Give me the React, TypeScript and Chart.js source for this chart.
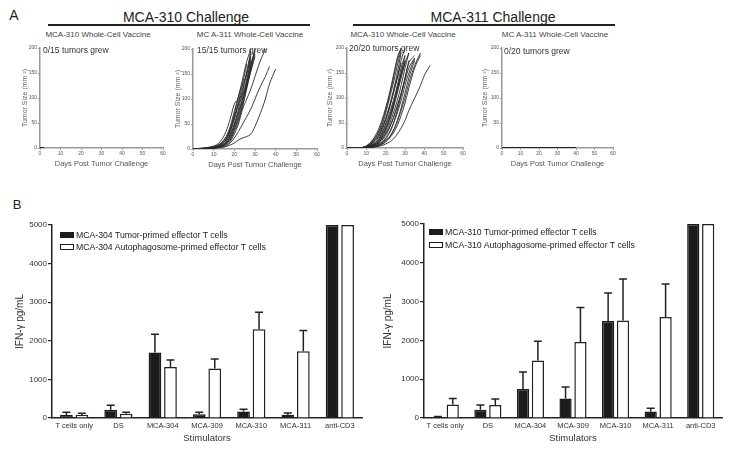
import React, { useEffect, useRef } from "react";
import { Chart, registerables } from "chart.js";
Chart.register(...registerables);

const FONT = "'Liberation Sans', Arial, sans-serif";

// ---------- Panel A data ----------
const xTicksDays = [0, 10, 20, 30, 40, 50, 60];
const yTicksTumor = [0, 50, 100, 150, 200];

// MCA-310 challenge, MCA-311 vaccine (15 tumors)
const days310 = [0, 5, 10, 13, 16, 18, 20, 22, 24, 26, 28, 30, 32, 35, 37, 40];
const curves310 = [
  [0, 1, 3, 8, 20, 35, 60, 90, 120, 150, 185, null, null, null, null, null],
  [0, 1, 4, 10, 25, 45, 75, 105, 140, 175, 200, null, null, null, null, null],
  [0, 2, 6, 14, 35, 60, 90, 100, 110, 140, 180, null, null, null, null, null],
  [0, 1, 3, 6, 15, 30, 50, 80, 115, 155, 195, null, null, null, null, null],
  [0, 1, 2, 5, 12, 25, 45, 70, 100, 130, 165, 200, null, null, null, null],
  [0, 1, 3, 7, 18, 35, 60, 95, 130, 170, null, null, null, null, null, null],
  [0, 1, 2, 4, 10, 20, 40, 65, 95, 130, 170, 195, null, null, null, null],
  [0, 1, 2, 4, 8, 15, 30, 50, 80, 100, 120, 145, 170, 200, null, null],
  [0, 1, 2, 3, 6, 12, 22, 35, 50, 65, 80, 100, 120, 145, 165, null],
  [0, 1, 2, 3, 5, 8, 12, 18, 22, 25, 30, 45, 65, 100, 130, 160],
  [0, 2, 5, 10, 22, 40, 70, 105, 130, 150, 190, null, null, null, null, null],
  [0, 1, 3, 6, 14, 28, 48, 75, 100, 125, 155, 185, null, null, null, null],
  [0, 1, 2, 5, 10, 18, 35, 55, 85, 120, 160, 200, null, null, null, null],
  [0, 1, 4, 9, 20, 40, 65, 90, 105, 135, 175, null, null, null, null, null],
  [0, 1, 2, 5, 12, 22, 40, 60, 90, 125, 160, 190, null, null, null, null],
];

// MCA-311 challenge, MCA-310 vaccine (20 tumors)
const days311 = [0, 5, 8, 10, 13, 16, 18, 20, 22, 24, 26, 28, 30, 32, 35, 38, 40, 43];
const curves311 = [
  [0, 0, 1, 3, 10, 25, 40, 60, 85, 115, 150, 190, null, null, null, null, null, null],
  [0, 0, 1, 4, 15, 35, 55, 80, 110, 145, 180, 200, null, null, null, null, null, null],
  [0, 0, 1, 2, 8, 20, 35, 55, 80, 110, 140, 175, 200, null, null, null, null, null],
  [0, 0, 1, 3, 12, 28, 45, 70, 100, 130, 165, 195, null, null, null, null, null, null],
  [0, 0, 1, 2, 5, 12, 22, 38, 58, 85, 115, 150, 185, null, null, null, null, null],
  [0, 0, 0, 1, 4, 10, 18, 30, 48, 70, 95, 125, 160, 190, null, null, null, null],
  [0, 0, 0, 1, 3, 8, 15, 25, 40, 60, 85, 110, 140, 170, 185, null, null, null],
  [0, 0, 1, 2, 6, 15, 28, 45, 65, 90, 120, 150, 175, null, null, null, null, null],
  [0, 0, 0, 1, 2, 5, 10, 18, 30, 48, 70, 95, 125, 150, 180, null, null, null],
  [0, 0, 0, 1, 2, 4, 8, 14, 22, 35, 52, 75, 100, 130, 165, 190, null, null],
  [0, 0, 0, 1, 2, 3, 5, 8, 12, 18, 28, 40, 55, 75, 100, 125, 145, 165],
  [0, 0, 1, 3, 10, 22, 38, 58, 82, 110, 140, 170, null, null, null, null, null, null],
  [0, 0, 0, 2, 6, 14, 25, 40, 60, 85, 115, 145, 170, null, null, null, null, null],
  [0, 0, 0, 1, 3, 7, 12, 20, 32, 50, 75, 105, 140, 175, null, null, null, null],
  [0, 0, 1, 2, 5, 10, 18, 28, 42, 60, 82, 108, 135, 160, 180, null, null, null],
  [0, 0, 0, 1, 2, 4, 7, 12, 20, 30, 45, 65, 90, 120, 160, 185, null, null],
  [0, 0, 1, 4, 14, 30, 50, 75, 105, 140, 175, 200, null, null, null, null, null, null],
  [0, 0, 0, 1, 4, 10, 20, 35, 55, 80, 110, 140, 170, 190, null, null, null, null],
  [0, 0, 0, 1, 2, 5, 10, 15, 22, 35, 55, 80, 110, 140, 175, null, null, null],
  [0, 0, 1, 2, 7, 16, 30, 48, 70, 95, 125, 160, 185, null, null, null, null, null],
];

// No growth
const daysNoGrowthA = [0, 2];
const valsNoGrowthA = [0, 0];
const daysNoGrowthB = [0, 10, 20, 30, 40];
const valsNoGrowthB = [0, 0, 0, 0, 0];

// ---------- Panel B data ----------
const stimulators = ["T cells only", "DS", "MCA-304", "MCA-309", "MCA-310", "MCA-311", "anti-CD3"];
const yTicksIfn = [0, 1000, 2000, 3000, 4000, 5000];

const label304Tumor = "MCA-304 Tumor-primed effector T cells";
const label304Auto = "MCA-304 Autophagosome-primed effector T cells";
const mca304Tumor = [80, 215, 1695, 95, 170, 85, 5000];
const mca304TumorErr = [70, 115, 475, 55, 55, 45, 0];
const mca304Auto = [80, 110, 1320, 1280, 2300, 1730, 5000];
const mca304AutoErr = [40, 40, 185, 250, 440, 535, 0];

const label310Tumor = "MCA-310 Tumor-primed effector T cells";
const label310Auto = "MCA-310 Autophagosome-primed effector T cells";
const mca310Tumor = [20, 215, 745, 500, 2500, 170, 5000];
const mca310TumorErr = [20, 120, 440, 300, 720, 80, 0];
const mca310Auto = [345, 335, 1485, 1960, 2515, 2600, 5000];
const mca310AutoErr = [155, 155, 490, 890, 1065, 855, 0];

// ---------- plugins ----------
const errorBarPlugin = {
  id: "errorBars",
  afterDatasetsDraw(chart: any) {
    const ctx = chart.ctx;
    const yScale = chart.scales.y;
    chart.data.datasets.forEach((ds: any, di: number) => {
      const meta = chart.getDatasetMeta(di);
      if (!ds.errors) return;
      meta.data.forEach((bar: any, i: number) => {
        const err = ds.errors[i];
        if (!err) return;
        const v = ds.data[i];
        const y0 = yScale.getPixelForValue(v);
        const y1 = yScale.getPixelForValue(v + err);
        const x = bar.x;
        ctx.save();
        ctx.strokeStyle = "#222";
        ctx.lineWidth = 1.5;
        ctx.beginPath();
        ctx.moveTo(x, y0);
        ctx.lineTo(x, y1);
        ctx.moveTo(x - 4, y1);
        ctx.lineTo(x + 4, y1);
        ctx.stroke();
        ctx.restore();
      });
    });
  },
};

function lineConfig(days: number[], curves: (number | null)[][], color: string, width: number, yW: number, xH: number, padTop: number, padRight: number) {
  return {
    type: "line",
    data: {
      datasets: curves.map((vals) => ({
        data: days.map((d, i) => ({ x: d, y: vals[i] })),
        borderColor: color,
        borderWidth: width,
        pointRadius: 0,
        cubicInterpolationMode: "monotone",
        fill: false,
        spanGaps: false,
      })),
    },
    options: {
      animation: false,
      responsive: true,
      maintainAspectRatio: false,
      layout: { padding: { top: padTop, right: padRight, left: 0, bottom: 0 } },
      plugins: { legend: { display: false }, tooltip: { enabled: false } },
      scales: {
        x: {
          type: "linear",
          min: 0,
          max: 60,
          afterBuildTicks: (s: any) => { s.ticks = xTicksDays.map((v) => ({ value: v })); },
          ticks: { font: { family: FONT, size: 5 }, color: "#555", maxRotation: 0, autoSkip: false, padding: 1 },
          grid: { drawOnChartArea: false, tickLength: 2, color: "#999" },
          border: { color: "#999", width: 1.5 },
          title: { display: true, text: "Days Post Tumor Challenge", font: { family: FONT, size: 7.5 }, color: "#555", padding: 0 },
          afterFit: (s: any) => { s.height = xH; },
        },
        y: {
          min: 0,
          max: 200,
          afterBuildTicks: (s: any) => { s.ticks = yTicksTumor.map((v) => ({ value: v })); },
          ticks: { font: { family: FONT, size: 5 }, color: "#555", autoSkip: false, padding: 1 },
          grid: { drawOnChartArea: false, tickLength: 2, color: "#999" },
          border: { color: "#999", width: 1.5 },
          title: { display: true, text: "Tumor Size (mm ²)", font: { family: FONT, size: 7 }, color: "#666", padding: 0 },
          afterFit: (s: any) => { s.width = yW; },
        },
      },
    },
  };
}

function barConfig(tumor: number[], tumorErr: number[], auto: number[], autoErr: number[], l1: string, l2: string, yW: number, xH: number) {
  return {
    type: "bar",
    data: {
      labels: stimulators,
      datasets: [
        { label: l1, data: tumor, errors: tumorErr, backgroundColor: "#1c1c1c", borderColor: "#1c1c1c", borderWidth: 1.5, categoryPercentage: 0.7, barPercentage: 0.82 },
        { label: l2, data: auto, errors: autoErr, backgroundColor: "#ffffff", borderColor: "#222", borderWidth: 1.5, categoryPercentage: 0.7, barPercentage: 0.82 },
      ],
    },
    plugins: [errorBarPlugin],
    options: {
      animation: false,
      responsive: true,
      maintainAspectRatio: false,
      layout: { padding: { top: 10, right: 6, left: 0, bottom: 0 } },
      plugins: { legend: { display: false }, tooltip: { enabled: false } },
      scales: {
        x: {
          ticks: { font: { family: FONT, size: 7.5 }, color: "#333", maxRotation: 0, autoSkip: false, padding: 3 },
          grid: { display: false, drawTicks: false },
          border: { color: "#222", width: 1.5 },
          title: { display: true, text: "Stimulators", font: { family: FONT, size: 9.5 }, color: "#333", padding: 0 },
          afterFit: (s: any) => { s.height = xH; },
        },
        y: {
          min: 0,
          max: 5000,
          afterBuildTicks: (s: any) => { s.ticks = yTicksIfn.map((v) => ({ value: v })); },
          ticks: { font: { family: FONT, size: 8 }, color: "#333", autoSkip: false, padding: 1, callback: (v: any) => String(v) },
          grid: { drawOnChartArea: false, tickLength: 4, color: "#222", lineWidth: 1.2 },
          border: { color: "#222", width: 1.5 },
          title: { display: true, text: "IFN-γ pg/mL", font: { family: FONT, size: 10 }, color: "#333", padding: 0 },
          afterFit: (s: any) => { s.width = yW; },
        },
      },
    },
  };
}

function ChartBox({ left, top, width, height, make }: any) {
  const ref = useRef<HTMLCanvasElement>(null);
  useEffect(() => {
    const c = new Chart(ref.current as any, make());
    return () => c.destroy();
  }, []);
  return (
    <div style={{ position: "absolute", left, top, width, height }}>
      <canvas ref={ref} />
    </div>
  );
}

function Txt({ x, y, size, children, color = "#333", align = "center", family = FONT }: any) {
  const tx = align === "center" ? "-50%" : "0";
  return (
    <div style={{ position: "absolute", left: x, top: y, transform: `translate(${tx}, -50%)`, fontSize: size, fontFamily: family, color, whiteSpace: "nowrap", lineHeight: 1 }}>
      {children}
    </div>
  );
}

function LegendItem({ x, y, filled, label }: any) {
  return (
    <div style={{ position: "absolute", left: x, top: y, display: "flex", alignItems: "center", whiteSpace: "nowrap" }}>
      <div style={{ width: 12, height: 4, background: filled ? "#1c1c1c" : "#fff", border: "1.5px solid #1c1c1c", marginRight: 2 }} />
      <span style={{ fontFamily: FONT, fontSize: 8.7, color: "#222", lineHeight: 1 }}>{label}</span>
    </div>
  );
}

export default function App() {
  return (
    <div style={{ position: "fixed", left: 0, top: 0, width: 734, height: 451, background: "#fff", overflow: "hidden" }}>
      <Txt x={14} y={15} size={14} color="#222">A</Txt>
      <Txt x={186} y={17} size={14} color="#222">MCA-310 Challenge</Txt>
      <div style={{ position: "absolute", left: 48, top: 24, width: 262, height: 1.5, background: "#222" }} />
      <Txt x={493} y={17} size={14} color="#222">MCA-311 Challenge</Txt>
      <div style={{ position: "absolute", left: 353, top: 24, width: 262, height: 1.5, background: "#222" }} />

      <Txt x={98} y={35} size={8} color="#444">MCA-310 Whole-Cell Vaccine</Txt>
      <Txt x={250} y={35} size={8} color="#444">MC A-311 Whole-Cell Vaccine</Txt>
      <Txt x={403} y={35} size={8} color="#444">MCA-310 Whole-Cell Vaccine</Txt>
      <Txt x={555} y={35} size={8} color="#444">MC A-311 Whole-Cell Vaccine</Txt>

      <ChartBox left={21} top={40} width={148} height={128} make={() => lineConfig(daysNoGrowthA, [valsNoGrowthA], "#222", 2, 19, 20, 8, 6)} />
      <ChartBox left={174} top={41} width={149} height={128} make={() => lineConfig(days310, curves310, "#2a2a2a", 0.9, 19, 20, 8, 6)} />
      <ChartBox left={326} top={40} width={143} height={128} make={() => lineConfig(days311, curves311, "#2a2a2a", 0.9, 21, 20, 8, 6)} />
      <ChartBox left={481} top={40} width={138} height={128} make={() => lineConfig(daysNoGrowthB, [valsNoGrowthB], "#222", 2, 21, 20, 8, 6)} />

      <Txt x={43} y={50} size={8.5} color="#333" align="left">0/15 tumors grew</Txt>
      <Txt x={197} y={50} size={8.5} color="#333" align="left">15/15 tumors grew</Txt>
      <Txt x={349} y={48} size={8.5} color="#333" align="left">20/20 tumors grew</Txt>
      <Txt x={504} y={51} size={8.5} color="#333" align="left">0/20 tumors grew</Txt>

      <Txt x={17} y={204} size={13} color="#222">B</Txt>

      <ChartBox left={14} top={215} width={354} height={229} make={() => barConfig(mca304Tumor, mca304TumorErr, mca304Auto, mca304AutoErr, label304Tumor, label304Auto, 38, 26)} />
      <ChartBox left={382} top={214} width={346} height={230} make={() => barConfig(mca310Tumor, mca310TumorErr, mca310Auto, mca310AutoErr, label310Tumor, label310Auto, 42, 26)} />

      <LegendItem x={60} y={231} filled={true} label={label304Tumor} />
      <LegendItem x={60} y={243} filled={false} label={label304Auto} />
      <LegendItem x={429} y={228} filled={true} label={label310Tumor} />
      <LegendItem x={429} y={241} filled={false} label={label310Auto} />
    </div>
  );
}
